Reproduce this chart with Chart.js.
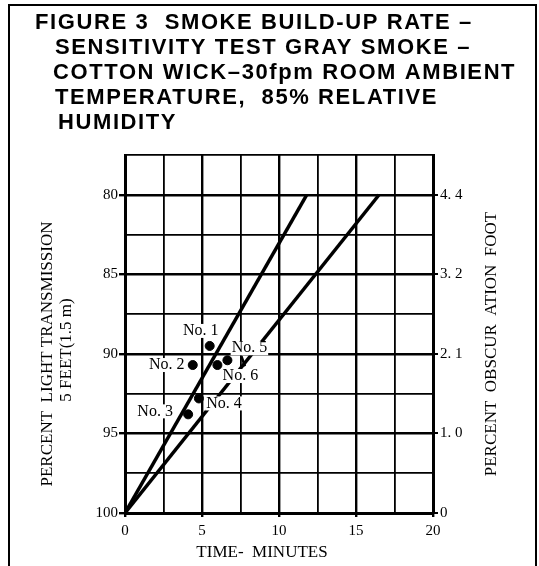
<!DOCTYPE html>
<html>
<head>
<meta charset="utf-8">
<script src="https://cdn.jsdelivr.net/npm/chart.js@4"></script>
<style>
  html, body { margin: 0; padding: 0; background: #fff; }
  #wrap { width: 539px; height: 566px; }
</style>
</head>
<body>
<div id="wrap"><canvas id="smokeChart" width="539" height="566"></canvas></div>
<script>
'use strict';

// title of the figure, one entry per printed line
const titleLines = [
    'FIGURE 3  SMOKE BUILD-UP RATE –',
    'SENSITIVITY TEST GRAY SMOKE –',
    'COTTON WICK–30fpm ROOM AMBIENT',
    'TEMPERATURE,  85% RELATIVE',
    'HUMIDITY'
];

// the two build-up lines (time in minutes, % light transmission)
const steepMinutes = [0, 11.8];
const steepTransmission = [100, 80];
const shallowMinutes = [0, 16.5];
const shallowTransmission = [100, 80];

// sensitivity test points
const testNames = ['No. 1', 'No. 2', 'No. 3', 'No. 4', 'No. 5', 'No. 6'];
const testMinutes = [5.5, 4.4, 4.1, 4.8, 6.65, 6.0];
const testTransmission = [89.5, 90.7, 93.8, 92.8, 90.4, 90.7];

// axis ticks and titles
const minuteTicks = [0, 5, 10, 15, 20];
const transmissionTicks = [80, 85, 90, 95, 100];
const obscurationTicks = ['4. 4', '3. 2', '2. 1', '1. 0', '0'];
const xTitle = 'TIME-  MINUTES';
const yTitle = ['PERCENT  LIGHT TRANSMISSION', '5 FEET(1.5 m)'];
const y2Title = 'PERCENT  OBSCUR  ATION  FOOT';

const toPoints = (xs, ys) => xs.map((x, i) => ({x: x, y: ys[i]}));

const serif = '"Liberation Serif", "DejaVu Serif", serif';

// where the test labels sit relative to their dot (pixels)
const labelOffsets = [[-9, -15], [-26, 0], [-33, -3], [25, 5], [22, -12], [23, 11]];

function vText(ctx, text, x, y) {
    ctx.save();
    ctx.translate(x, y);
    ctx.rotate(-Math.PI / 2);
    ctx.fillText(text, 0, 0);
    ctx.restore();
}

const framePlugin = {
    id: 'frame',
    beforeDraw(chart) {
        const ctx = chart.ctx;
        ctx.save();
        ctx.fillStyle = '#fff';
        ctx.fillRect(0, 0, chart.width, chart.height);
        ctx.strokeStyle = '#000';
        ctx.lineWidth = 2;
        ctx.beginPath();
        ctx.moveTo(9, chart.height);
        ctx.lineTo(9, 5);
        ctx.lineTo(536, 5);
        ctx.lineTo(536, chart.height);
        ctx.stroke();

        ctx.fillStyle = '#000';
        ctx.font = 'bold 22px "Liberation Sans", Arial, sans-serif';
        ctx.letterSpacing = '1.6px';
        ctx.textBaseline = 'middle';
        const xs = [35, 55, 53, 55, 58];
        titleLines.forEach((line, i) => {
            ctx.fillText(line, xs[i], 23 + i * 25);
        });
        ctx.letterSpacing = '0px';
        ctx.restore();
    },
    afterDraw(chart) {
        const ctx = chart.ctx;
        ctx.save();
        ctx.font = '17px ' + serif;
        ctx.fillStyle = '#000';
        ctx.textAlign = 'center';
        ctx.textBaseline = 'middle';
        ctx.fillText(xTitle, 262, 553);
        vText(ctx, yTitle[0], 48, 354);
        vText(ctx, yTitle[1], 67, 350);
        vText(ctx, y2Title, 492, 344);
        ctx.restore();
    }
};

const labelPlugin = {
    id: 'testLabels',
    afterDatasetsDraw(chart) {
        const ctx = chart.ctx;
        const meta = chart.getDatasetMeta(2);
        ctx.save();
        ctx.font = '16px ' + serif;
        ctx.textAlign = 'center';
        ctx.textBaseline = 'middle';
        meta.data.forEach((pt, i) => {
            const x = pt.x + labelOffsets[i][0];
            const y = pt.y + labelOffsets[i][1];
            const w = ctx.measureText(testNames[i]).width;
            ctx.fillStyle = '#fff';
            ctx.fillRect(x - w / 2 - 1, y - 7, w + 2, 14);
            ctx.fillStyle = '#000';
            ctx.fillText(testNames[i], x, y);
        });
        // leader stroke from the No. 5 label down to the shallow line
        const p5 = meta.data[4];
        ctx.strokeStyle = '#000';
        ctx.lineWidth = 2.5;
        ctx.beginPath();
        ctx.moveTo(p5.x + 14, p5.y - 4);
        ctx.lineTo(p5.x + 17.5, p5.y + 6);
        ctx.stroke();
        ctx.restore();
    }
};

const gridWidth = ctx => (ctx.tick && ctx.tick.value % 5 === 0 ? 2.4 : 1.8);
const tickColor = ctx => (ctx.tick && ctx.tick.value % 5 === 0 ? '#000' : 'rgba(0,0,0,0)');

new Chart(document.getElementById('smokeChart'), {
    type: 'scatter',
    data: {
        datasets: [{
            label: 'steep',
            data: toPoints(steepMinutes, steepTransmission),
            showLine: true,
            borderColor: '#000',
            borderWidth: 3.5,
            pointRadius: 0
        }, {
            label: 'shallow',
            data: toPoints(shallowMinutes, shallowTransmission),
            showLine: true,
            borderColor: '#000',
            borderWidth: 3.5,
            pointRadius: 0
        }, {
            label: 'tests',
            data: toPoints(testMinutes, testTransmission),
            backgroundColor: '#000',
            borderColor: '#000',
            pointRadius: 4.5,
            showLine: false
        }]
    },
    options: {
        responsive: false,
        animation: false,
        events: [],
        layout: {padding: {left: 10, right: 4, top: 155, bottom: 0}},
        plugins: {
            legend: {display: false},
            tooltip: {enabled: false}
        },
        scales: {
            x: {
                type: 'linear',
                min: 0,
                max: 20,
                afterFit: s => { s.height = 53; },
                ticks: {
                    stepSize: 2.5,
                    autoSkip: false,
                    maxRotation: 0,
                    padding: 5,
                    color: '#000',
                    font: {family: serif, size: 15},
                    callback: v => (minuteTicks.includes(v) ? v : '')
                },
                grid: {color: '#000', lineWidth: gridWidth, tickLength: 4, tickColor: tickColor},
                border: {color: '#000', width: 3}
            },
            y: {
                position: 'left',
                reverse: true,
                min: 77.5,
                max: 100,
                afterFit: s => { s.width = 115; },
                ticks: {
                    stepSize: 2.5,
                    autoSkip: false,
                    padding: 1,
                    color: '#000',
                    font: {family: serif, size: 15},
                    callback: v => (transmissionTicks.includes(v) ? v : '')
                },
                grid: {color: '#000', lineWidth: gridWidth, tickLength: 6, tickColor: tickColor},
                border: {color: '#000', width: 3}
            },
            y2: {
                position: 'right',
                reverse: true,
                min: 77.5,
                max: 100,
                afterFit: s => { s.width = 102; },
                ticks: {
                    stepSize: 2.5,
                    autoSkip: false,
                    padding: 2,
                    color: '#000',
                    font: {family: serif, size: 15},
                    callback: v => {
                        const i = transmissionTicks.indexOf(v);
                        return i >= 0 ? obscurationTicks[i] : '';
                    }
                },
                grid: {drawOnChartArea: false, tickLength: 5, tickColor: tickColor, lineWidth: 2},
                border: {color: '#000', width: 3}
            }
        }
    },
    plugins: [framePlugin, labelPlugin]
});
</script>
</body>
</html>
